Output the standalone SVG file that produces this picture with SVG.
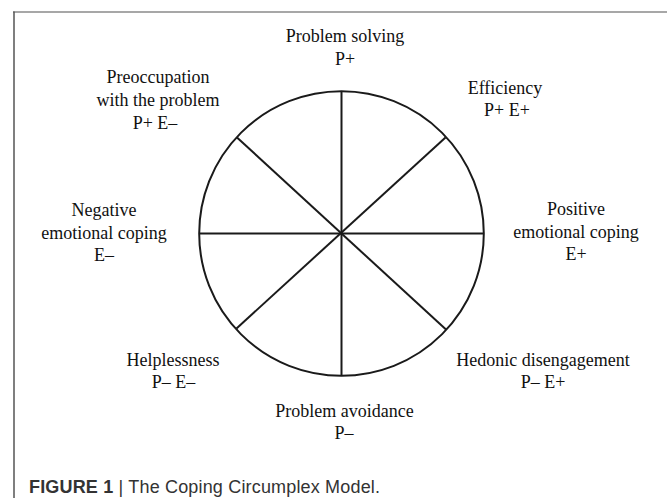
<svg xmlns="http://www.w3.org/2000/svg" width="667" height="498" viewBox="0 0 667 498">
  <style>
    .lbl { font-family: "Liberation Serif", "Times New Roman", serif; font-size: 18px; fill: #111; text-anchor: middle; }
    .ring { fill: none; stroke: #1a1a1a; stroke-width: 2; }
    .spoke { stroke: #1a1a1a; stroke-width: 2; stroke-linecap: butt; }
    .cap { font-family: "Liberation Sans", Arial, sans-serif; font-size: 18px; fill: #333; }
  </style>
  <rect width="667" height="498" fill="#fff"/>

  <!-- figure frame (open to the right and bottom) -->
  <g id="frame">
    <line x1="13" y1="12" x2="667" y2="12" stroke="#8a8a8a" stroke-width="1.5"/>
    <line x1="14" y1="11.5" x2="14" y2="498" stroke="#555" stroke-width="1.5"/>
  </g>

  <!-- circumplex circle -->
  <g id="circle">
    <circle class="ring" cx="341.5" cy="233.5" r="142.3"/>
  </g>

  <!-- spokes dividing the circle into eight sectors -->
  <g id="connectors">
    <line class="spoke" x1="341.5" y1="91.2" x2="341.5" y2="375.8"/>
    <line class="spoke" x1="199.2" y1="233.5" x2="483.8" y2="233.5"/>
    <line class="spoke" x1="237" y1="137.5" x2="446" y2="329.5"/>
    <line class="spoke" x1="445.5" y1="137.5" x2="236.5" y2="328.5"/>
  </g>

  <g id="problem-solving">
    <text class="lbl" x="345" y="42">Problem solving</text>
    <text class="lbl" x="345" y="65">P+</text>
  </g>
  <g id="efficiency">
    <text class="lbl" x="505" y="94">Efficiency</text>
    <text class="lbl" x="507" y="116">P+ E+</text>
  </g>
  <g id="positive-emotional-coping">
    <text class="lbl" x="576" y="215">Positive</text>
    <text class="lbl" x="576" y="237.7">emotional coping</text>
    <text class="lbl" x="576" y="260">E+</text>
  </g>
  <g id="hedonic-disengagement">
    <text class="lbl" x="543" y="365.7">Hedonic disengagement</text>
    <text class="lbl" x="543" y="387.5">P– E+</text>
  </g>
  <g id="problem-avoidance">
    <text class="lbl" x="344.5" y="416.7">Problem avoidance</text>
    <text class="lbl" x="344" y="438.5">P–</text>
  </g>
  <g id="helplessness">
    <text class="lbl" x="173" y="365.7">Helplessness</text>
    <text class="lbl" x="173.5" y="388">P– E–</text>
  </g>
  <g id="negative-emotional-coping">
    <text class="lbl" x="104" y="216">Negative</text>
    <text class="lbl" x="104" y="238.5">emotional coping</text>
    <text class="lbl" x="104" y="261">E–</text>
  </g>
  <g id="preoccupation">
    <text class="lbl" x="158" y="83">Preoccupation</text>
    <text class="lbl" x="158" y="106">with the problem</text>
    <text class="lbl" x="155" y="128.5">P+ E–</text>
  </g>

  <!-- caption -->
  <text class="cap" x="29" y="493" textLength="351" lengthAdjust="spacing"><tspan font-weight="bold">FIGURE 1</tspan> | The Coping Circumplex Model.</text>
</svg>
